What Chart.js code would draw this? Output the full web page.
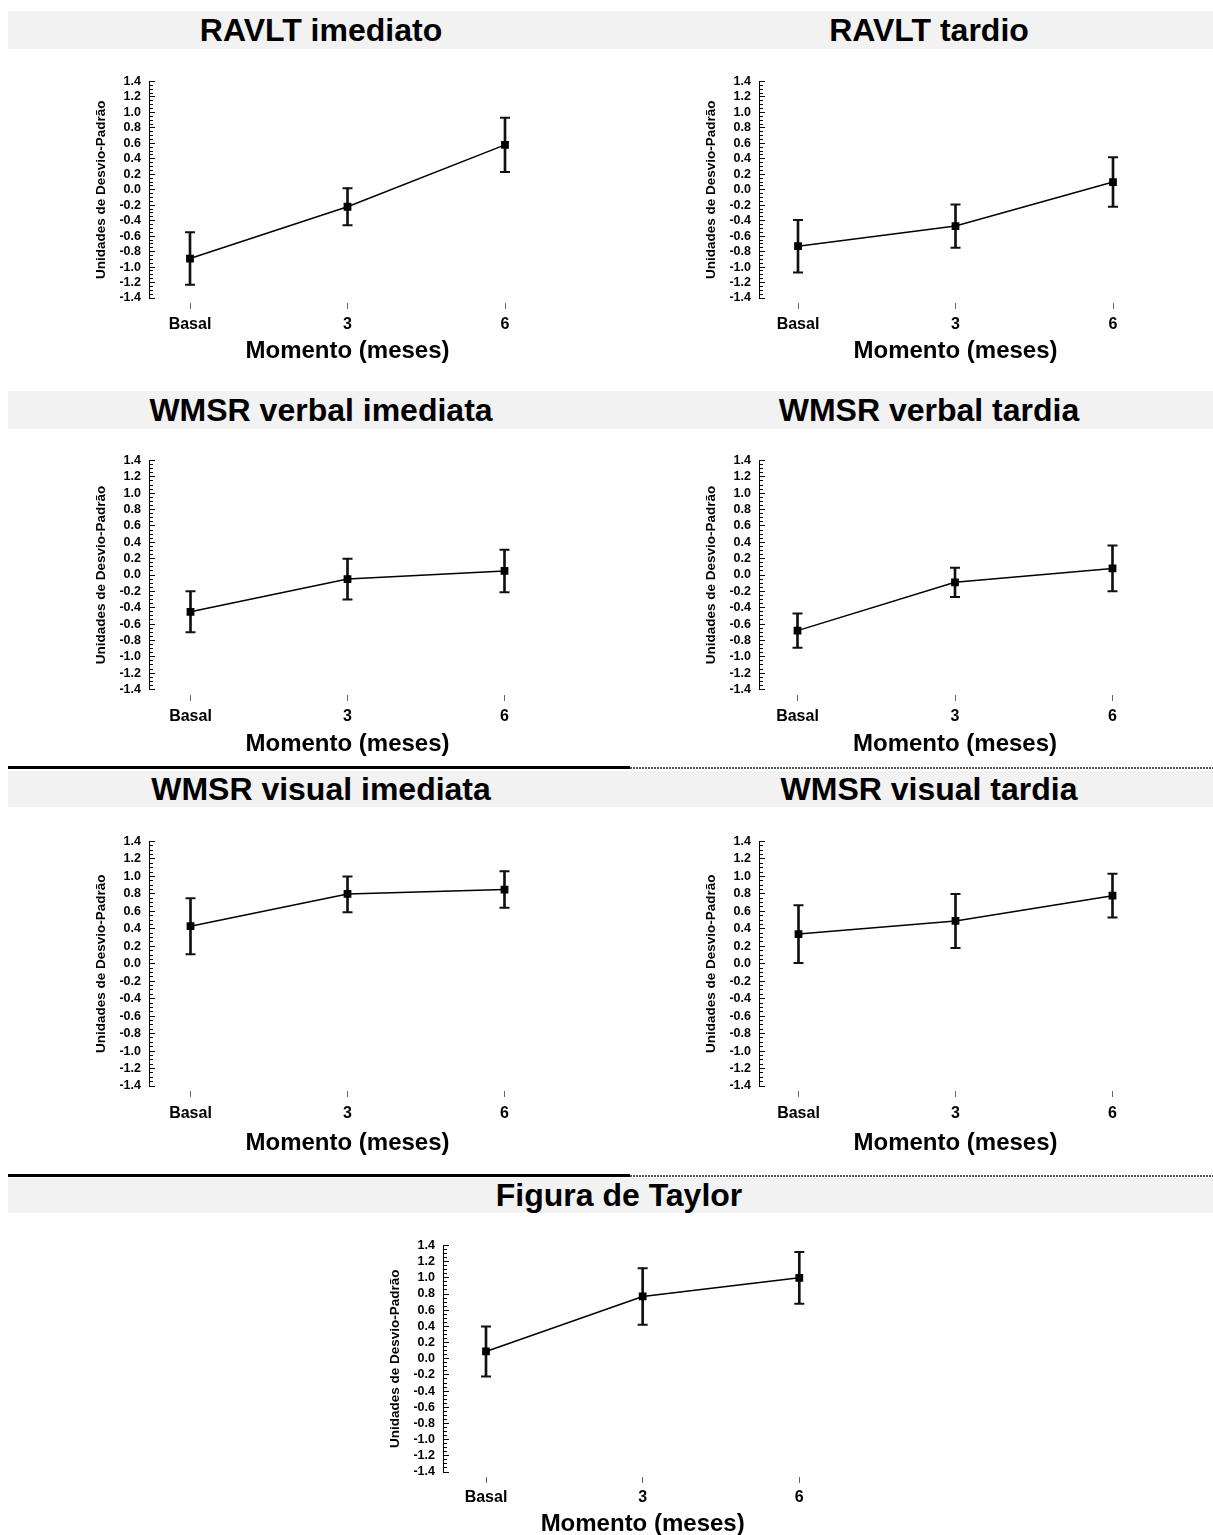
<!DOCTYPE html>
<html>
<head>
<meta charset="utf-8">
<script src="https://cdn.jsdelivr.net/npm/chart.js@4.4.1/dist/chart.umd.min.js"></script>
<style>
  html, body { margin: 0; padding: 0; background: #ffffff; }
  body { position: relative; width: 1213px; height: 1535px; overflow: hidden; font-family: "Liberation Sans", Arial, sans-serif; }
  .band { position: absolute; left: 8px; width: 1205px; background: #f2f2f2; }
  .ttl { position: absolute; width: 600px; text-align: center; font-weight: bold; font-size: 32px; color: #000; white-space: nowrap; }
  .solid { position: absolute; left: 8px; width: 622px; height: 3px; background: #000; }
  .dots { position: absolute; left: 630px; width: 583px; height: 2px; background: repeating-linear-gradient(90deg, #555 0 2px, transparent 2px 3px); }
  .box { position: absolute; }
</style>
</head>
<body>
<script>
// ---------- data ----------
const categories = ['Basal', '3', '6'];
const yMajorTicks = [-1.4, -1.2, -1.0, -0.8, -0.6, -0.4, -0.2, 0.0, 0.2, 0.4, 0.6, 0.8, 1.0, 1.2, 1.4];
const xAxisTitle = 'Momento (meses)';
const yAxisTitle = 'Unidades de Desvio-Padrão';

const ravltImediatoMean = [-0.89, -0.22, 0.58];
const ravltImediatoLow  = [-1.23, -0.46, 0.23];
const ravltImediatoHigh = [-0.55, 0.02, 0.93];

const ravltTardioMean = [-0.73, -0.47, 0.10];
const ravltTardioLow  = [-1.07, -0.75, -0.22];
const ravltTardioHigh = [-0.39, -0.19, 0.42];

const verbalImediataMean = [-0.45, -0.05, 0.05];
const verbalImediataLow  = [-0.70, -0.30, -0.21];
const verbalImediataHigh = [-0.20, 0.20, 0.31];

const verbalTardiaMean = [-0.68, -0.09, 0.08];
const verbalTardiaLow  = [-0.89, -0.27, -0.20];
const verbalTardiaHigh = [-0.47, 0.09, 0.36];

const visualImediataMean = [0.43, 0.80, 0.85];
const visualImediataLow  = [0.11, 0.59, 0.64];
const visualImediataHigh = [0.75, 1.00, 1.06];

const visualTardiaMean = [0.34, 0.49, 0.78];
const visualTardiaLow  = [0.01, 0.18, 0.53];
const visualTardiaHigh = [0.67, 0.80, 1.03];

const taylorMean = [0.09, 0.77, 1.00];
const taylorLow  = [-0.22, 0.42, 0.68];
const taylorHigh = [0.40, 1.12, 1.32];

// ---------- layout (page pixels) ----------
const FONT = '"Liberation Sans", Arial, sans-serif';
const bands = [
  {top: 11, h: 38, titles: [['RAVLT imediato', 321], ['RAVLT tardio', 929]]},
  {top: 391, h: 38, titles: [['WMSR verbal imediata', 321], ['WMSR verbal tardia', 929]]},
  {top: 771, h: 36, titles: [['WMSR visual imediata', 321], ['WMSR visual tardia', 929]]},
  {top: 1178, h: 35, titles: [['Figura de Taylor', 619]]}
];
const dividers = [766, 1174];

const panels = [
  {mean: ravltImediatoMean, low: ravltImediatoLow, high: ravltImediatoHigh, axisX: 149, topY: 81.5, botY: 298, c0: 190, c2: 505, labY: 323, titY: 351},
  {mean: ravltTardioMean, low: ravltTardioLow, high: ravltTardioHigh, axisX: 759, topY: 81.5, botY: 298, c0: 798, c2: 1113, labY: 323, titY: 351},
  {mean: verbalImediataMean, low: verbalImediataLow, high: verbalImediataHigh, axisX: 148.5, topY: 460.5, botY: 689.5, c0: 190, c2: 504, labY: 715, titY: 744},
  {mean: verbalTardiaMean, low: verbalTardiaLow, high: verbalTardiaHigh, axisX: 758.5, topY: 460.5, botY: 689.5, c0: 797, c2: 1112, labY: 715, titY: 744},
  {mean: visualImediataMean, low: visualImediataLow, high: visualImediataHigh, axisX: 148.5, topY: 841, botY: 1085.5, c0: 190, c2: 504, labY: 1111, titY: 1142},
  {mean: visualTardiaMean, low: visualTardiaLow, high: visualTardiaHigh, axisX: 758.5, topY: 841, botY: 1085.5, c0: 798, c2: 1112, labY: 1111, titY: 1142},
  {mean: taylorMean, low: taylorLow, high: taylorHigh, axisX: 443, topY: 1245, botY: 1471.5, c0: 486, c2: 799.3, labY: 1495, titY: 1523}
];

// ---------- static decorations ----------
bands.forEach(b => {
  const d = document.createElement('div');
  d.className = 'band';
  d.style.top = b.top + 'px'; d.style.height = b.h + 'px';
  document.body.appendChild(d);
  b.titles.forEach(([t, cx]) => {
    const s = document.createElement('div');
    s.className = 'ttl';
    s.textContent = t;
    s.style.left = (cx - 300) + 'px';
    s.style.top = b.top + 'px';
    s.style.lineHeight = b.h + 'px';
    s.style.height = b.h + 'px';
    document.body.appendChild(s);
  });
});
dividers.forEach(y => {
  const a = document.createElement('div'); a.className = 'solid'; a.style.top = y + 'px'; document.body.appendChild(a);
  const b = document.createElement('div'); b.className = 'dots'; b.style.top = (y + 1) + 'px'; document.body.appendChild(b);
});

// ---------- charts ----------
const Y_W = 60, PAD_TOP = 8, TICK_LEN = 12, LABEL_FONT = 16, TITLE_FONT = 24;
const yAll = [];
for (let k = 0; k <= 56; k++) yAll.push((k - 28) / 20);
const isMajor = v => yMajorTicks.some(m => Math.abs(m - v) < 1e-6);

panels.forEach(p => {
  const step = (p.c2 - p.c0) / 2;
  const gapL = p.c0 - p.axisX;
  const left = p.axisX - Y_W;
  const right = p.c2 + gapL;
  const top = p.topY - PAD_TOP;
  const bottom = p.titY + 17;
  const xH = bottom - p.botY;
  const labPad = p.labY - p.botY - TICK_LEN - LABEL_FONT * 1.2 / 2 + 2;

  const box = document.createElement('div');
  box.className = 'box';
  box.style.left = left + 'px'; box.style.top = top + 'px';
  box.style.width = (right - left) + 'px'; box.style.height = (bottom - top) + 'px';
  const cv = document.createElement('canvas');
  box.appendChild(cv);
  document.body.appendChild(box);

  const idx = categories.map((c, i) => i);
  const chart = new Chart(cv, {
    type: 'line',
    data: {
      datasets: [
        {
          type: 'line',
          data: idx.map(i => ({x: i, y: p.mean[i]})),
          borderColor: '#000', borderWidth: 1.5,
          pointStyle: 'rect', pointRadius: 5.5, pointBackgroundColor: '#000', pointBorderColor: '#000', pointBorderWidth: 0,
          fill: false, tension: 0, order: 0
        },
        {
          type: 'bar',
          data: idx.map(i => ({x: i, y: [p.low[i], p.high[i]]})),
          backgroundColor: '#111', borderWidth: 0, barThickness: 2, order: 1
        },
        {
          type: 'scatter',
          data: idx.map(i => ({x: i, y: p.low[i]})).concat(idx.map(i => ({x: i, y: p.high[i]}))),
          showLine: false,
          pointStyle: 'line', pointRadius: 5, borderColor: '#111', pointBorderColor: '#111', pointBorderWidth: 2, order: 2
        }
      ]
    },
    options: {
      responsive: true, maintainAspectRatio: false, animation: false,
      events: [],
      layout: {padding: {top: PAD_TOP, right: 0, bottom: 0, left: 0}},
      plugins: {legend: {display: false}, tooltip: {enabled: false}},
      scales: {
        x: {
          type: 'linear', offset: false,
          min: -gapL / step, max: 2 + gapL / step,
          afterBuildTicks: s => { s.ticks = idx.map(i => ({value: i})); },
          afterFit: s => { s.height = xH; },
          ticks: {
            autoSkip: false, maxRotation: 0, padding: labPad,
            font: {family: FONT, size: LABEL_FONT, weight: 'bold'}, color: '#000',
            callback: v => categories[Math.round(v)]
          },
          grid: {drawOnChartArea: false, drawTicks: true, offset: false, tickLength: TICK_LEN, tickColor: '#666', tickWidth: 1, tickBorderDash: [0, 5, 6, 100]},
          border: {display: false},
          title: {display: true, text: xAxisTitle, font: {family: FONT, size: TITLE_FONT, weight: 'bold'}, color: '#000', padding: {top: 0, bottom: 2}}
        },
        y: {
          type: 'linear', min: -1.4, max: 1.4,
          afterBuildTicks: s => { s.ticks = yAll.map(v => ({value: v})); },
          afterFit: s => { s.width = Y_W; },
          ticks: {
            autoSkip: false, padding: 8,
            font: {family: FONT, size: 12.5, weight: 'bold'}, color: '#000',
            callback: v => isMajor(v) ? (Math.abs(v) < 1e-9 ? '0.0' : v.toFixed(1)) : ''
          },
          grid: {drawOnChartArea: true, drawTicks: false, color: '#000', lineWidth: 1},
          border: {display: true, color: '#000', width: 1,
            dash: ctx => ctx.type === 'tick' ? (isMajor(ctx.tick.value) ? [5, 4000] : [3, 4000]) : []},
          title: {display: true, text: yAxisTitle, font: {family: FONT, size: 13.5, weight: 'bold'}, color: '#000', padding: {top: 4, bottom: 0}}
        }
      }
    }
  });

  // align the plotting area with the target page geometry
  const ca = chart.chartArea;
  const W = right - left, H = bottom - top;
  const L0 = ca.left, T0 = ca.top, R0 = W - ca.right, B0 = H - ca.bottom;
  box.style.left = (p.axisX - L0) + 'px';
  box.style.top = (p.topY - T0) + 'px';
  box.style.width = (L0 + (right - p.axisX) + R0) + 'px';
  box.style.height = (T0 + (p.botY - p.topY) + B0) + 'px';
  chart.resize();
});
</script>
</body>
</html>
